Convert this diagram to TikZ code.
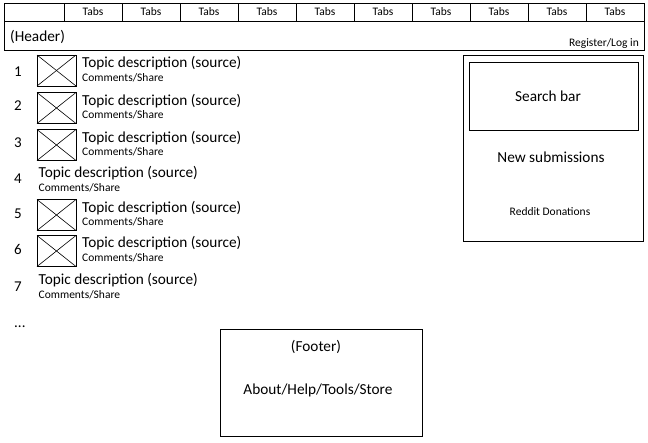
\documentclass[tikz,border=0pt]{standalone}
\usepackage{fontspec}
\setmainfont{Carlito}
\begin{document}
\begin{tikzpicture}[x=1pt,y=-1pt,
  box/.style={draw,line width=1pt,inner sep=0pt,outer sep=0pt},
  big/.style={font=\fontsize{15.3}{17}\selectfont,inner sep=0pt},
  small/.style={font=\fontsize{11.5}{13}\selectfont,inner sep=0pt},
  num/.style={font=\fontsize{15}{17}\selectfont,inner sep=0pt,anchor=base},
  img/.style={draw,line width=0.8pt,minimum width=39pt,minimum height=31pt,inner sep=0pt,outer sep=0pt},
  title/.style={big,anchor=base west},
  sub/.style={small,anchor=base west}]
\useasboundingbox (0,0) rectangle (648,442);
% top tab row
\node[box,minimum width=60pt,minimum height=18pt] (tab0) at (34,12) {};
\foreach \i in {1,...,10}{
  \node[box,minimum width=58pt,minimum height=18pt,small] (tab\i) at ({64+58*(\i-1)+29},12) {Tabs};
}
% header
\node[box,minimum width=640pt,minimum height=29pt] (header) at (324,35.5) {};
\node[big,anchor=base west] (htext) at (10,41) {(Header)};
\node[small,anchor=base east] (reg) at (639,46) {Register/Log in};
% list
\foreach \n/\nb/\hasimg/\iy/\tb/\cb in {1/76/1/70.5/67/81, 2/110/1/108/105/118, 3/147/1/145/142/155, 4/183/0/0/177/191, 5/218/1/215/212/225, 6/254/1/251/247/261, 7/291/0/0/284/298}{
  \node[num] (n\n) at (18,\nb) {\n};
  \ifnum\hasimg=1
    \node[img] (img\n) at (56.5,\iy) {};
    \draw[line width=0.6pt] (img\n.north west) -- (img\n.south east);
    \draw[line width=0.6pt] (img\n.north east) -- (img\n.south west);
    \node[title] (t\n) at (82,\tb) {Topic description (source)};
    \node[sub] (c\n) at (82,\cb) {Comments/Share};
  \else
    \node[title] (t\n) at (38.5,\tb) {Topic description (source)};
    \node[sub] (c\n) at (38.5,\cb) {Comments/Share};
  \fi
}
\node[num,anchor=base west] (dots) at (14,327) {...};
% right panel
\node[box,minimum width=180pt,minimum height=186pt] (side) at (553,148) {};
\node[box,minimum width=169pt,minimum height=68pt] (search) at (553.5,96) {};
\node[big] (stext) at (548,96) {Search bar};
\node[big] (newsub) at (551,157) {New submissions};
\node[small] (don) at (550,212) {Reddit Donations};
% footer
\node[box,minimum width=202pt,minimum height=107pt] (footer) at (321,382.5) {};
\node[big] (ftext) at (316,347) {(Footer)};
\node[big] (flinks) at (318,390) {About/Help/Tools/Store};
\end{tikzpicture}
\end{document}
